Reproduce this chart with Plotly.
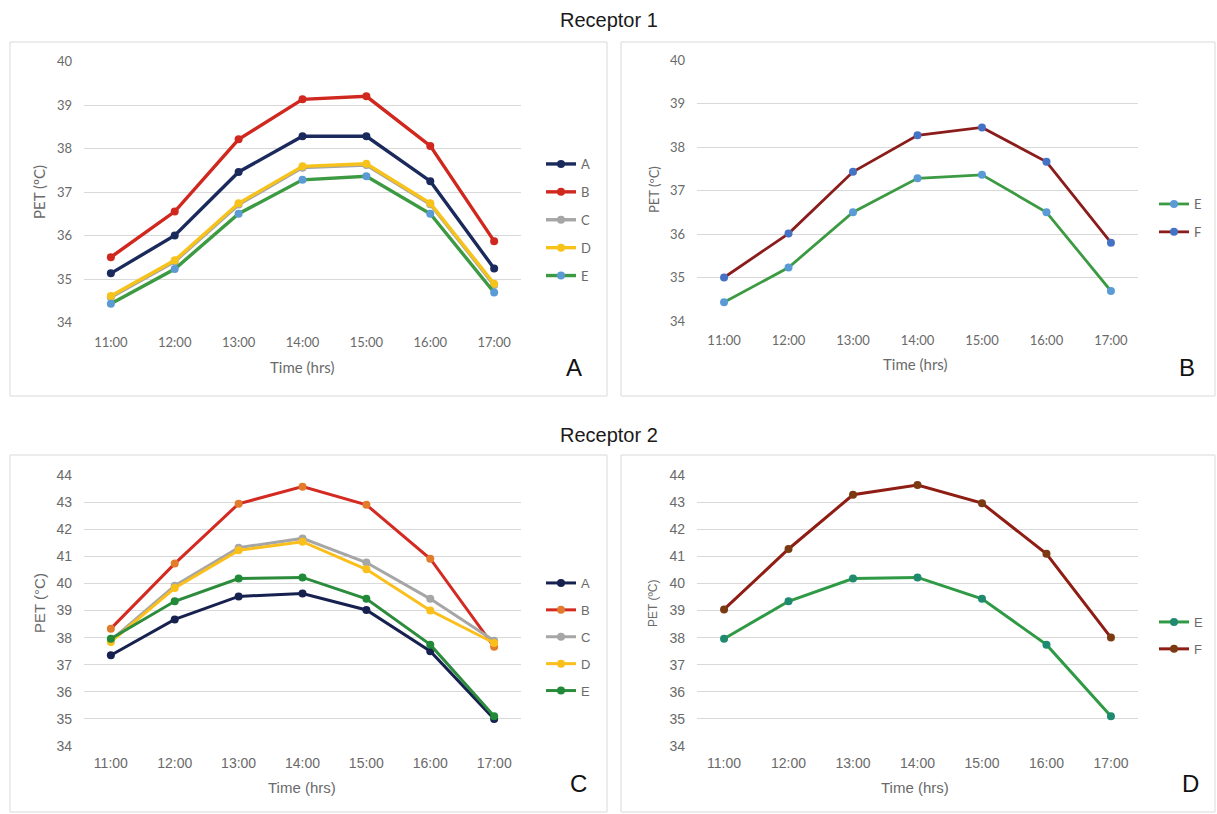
import plotly.graph_objects as go

W, H = 1217, 814

times = ["11:00", "12:00", "13:00", "14:00", "15:00", "16:00", "17:00"]

# Receptor 1 (PET, ºC)
r1_A = [35.13, 36.00, 37.46, 38.28, 38.28, 37.25, 35.24]
r1_B = [35.50, 36.55, 38.21, 39.13, 39.20, 38.06, 35.87]
r1_C = [34.58, 35.40, 36.71, 37.56, 37.62, 36.72, 34.86]
r1_D = [34.61, 35.43, 36.74, 37.59, 37.65, 36.74, 34.89]
r1_E = [34.43, 35.23, 36.50, 37.28, 37.36, 36.50, 34.69]
r1_F = [35.00, 36.01, 37.43, 38.27, 38.45, 37.66, 35.80]

# Receptor 2 (PET, ºC)
r2_A = [37.35, 38.67, 39.52, 39.63, 39.02, 37.50, 35.00]
r2_B = [38.33, 40.73, 42.94, 43.57, 42.90, 40.91, 37.66]
r2_C = [37.90, 39.91, 41.32, 41.66, 40.77, 39.43, 37.88]
r2_D = [37.84, 39.83, 41.22, 41.54, 40.52, 39.00, 37.80]
r2_E = [37.96, 39.34, 40.18, 40.22, 39.43, 37.74, 35.10]
r2_F = [39.04, 41.27, 43.27, 43.63, 42.96, 41.09, 38.00]

TOP_FONT = "Lato, Open Sans, sans-serif"
BOT_FONT = "Liberation Sans, Arial, sans-serif"
GREY = "#6a6a6a"


def px_x(a, b):
    return [a / W, b / W]


def px_y(top, bottom):
    return [1 - bottom / H, 1 - top / H]


fig = go.Figure()

# panel layout: (xaxis id, yaxis id, legend id, x-domain px, y-domain px)
panels = {
    "A": ("x", "y", "legend", (84, 521), (61.5, 322.5)),
    "B": ("x2", "y2", "legend2", (697, 1138), (60, 321)),
    "C": ("x3", "y3", "legend3", (84, 521), (475, 746)),
    "D": ("x4", "y4", "legend4", (697, 1138), (475, 746)),
}

series = {
    "A": [
        ("A", r1_A, "#1b2a5c", "#1b2a5c", 3.4),
        ("B", r1_B, "#d0281f", "#d0281f", 3.4),
        ("C", r1_C, "#a6a6a6", "#a6a6a6", 3.4),
        ("D", r1_D, "#f7c31a", "#f7c31a", 3.4),
        ("E", r1_E, "#3c9a42", "#5b9bd5", 3.4),
    ],
    "B": [
        ("E", r1_E, "#3c9a42", "#5b9bd5", 2.8),
        ("F", r1_F, "#8b1c1c", "#4472c4", 2.8),
    ],
    "C": [
        ("A", r2_A, "#16214f", "#16214f", 3.0),
        ("B", r2_B, "#d32a22", "#e37b2c", 3.0),
        ("C", r2_C, "#a6a6a6", "#a6a6a6", 3.0),
        ("D", r2_D, "#fbbf1c", "#fbbf1c", 3.0),
        ("E", r2_E, "#2c8c3c", "#208a38", 3.0),
    ],
    "D": [
        ("E", r2_E, "#2f9a45", "#1f8a70", 3.0),
        ("F", r2_F, "#8f1d14", "#7a3a12", 3.0),
    ],
}

for panel, items in series.items():
    xa, ya, lg, _, _ = panels[panel]
    for name, vals, lc, mc, lw in items:
        fig.add_trace(go.Scatter(
            x=times, y=vals, name=name, mode="lines+markers",
            line=dict(color=lc, width=lw),
            marker=dict(color=mc, size=8),
            xaxis=xa, yaxis=ya, legend=lg,
            legendgroup=panel + name,
        ))

layout = dict(
    width=W, height=H, margin=dict(l=0, r=0, t=0, b=0),
    paper_bgcolor="white", plot_bgcolor="white", showlegend=True,
)

yranges = {"A": (34, 40), "B": (34, 40), "C": (34, 44), "D": (34, 44)}
fonts = {"A": (TOP_FONT, 13), "B": (TOP_FONT, 13), "C": (BOT_FONT, 14), "D": (BOT_FONT, 14)}

for panel, (xa, ya, lg, xd, yd) in panels.items():
    xkey = "xaxis" + xa[1:]
    ykey = "yaxis" + ya[1:]
    fam, size = fonts[panel]
    layout[xkey] = dict(
        domain=px_x(*xd), anchor=ya, type="category",
        showgrid=False, zeroline=False, showline=False, ticks="",
        tickfont=dict(family=fam, size=size, color=GREY),
        ticklabelstandoff=10 if panel in "AB" else 7,
        fixedrange=True, automargin=False,
    )
    layout[ykey] = dict(
        domain=px_y(*yd), anchor=xa, range=list(yranges[panel]), dtick=1,
        showgrid=True, gridcolor="#d9d9d9", gridwidth=1,
        zeroline=False, showline=False, ticks="",
        tickfont=dict(family=fam, size=size, color=GREY),
        ticklabelstandoff=11, fixedrange=True, automargin=False,
    )

# legend placement: (left px, top px, gap between entries)
legend_pos = {
    "legend": (541, 149, 8),
    "legend2": (1154, 189, 8),
    "legend3": (541, 568, 7),
    "legend4": (1154, 607, 7),
}
for lg, (lx, ly, gap) in legend_pos.items():
    fam = TOP_FONT if lg in ("legend", "legend2") else BOT_FONT
    layout[lg] = dict(
        x=lx / W, y=1 - ly / H, xanchor="left", yanchor="top",
        bgcolor="rgba(0,0,0,0)", borderwidth=0,
        font=dict(family=fam, size=13, color=GREY),
        tracegroupgap=gap, itemwidth=30, traceorder="grouped",
    )

fig.update_layout(**layout)

# panel frames
frames = [(10, 42, 607, 396), (621, 42, 1215, 396), (10, 455, 607, 812), (621, 455, 1215, 812)]
for x0, y0, x1, y1 in frames:
    fig.add_shape(type="rect", xref="paper", yref="paper",
                  x0=x0 / W, x1=x1 / W, y0=1 - y1 / H, y1=1 - y0 / H,
                  line=dict(color="#d9d9d9", width=1), fillcolor="rgba(0,0,0,0)", layer="below")


def note(text, x, y, size, family, color="#222222", angle=0):
    fig.add_annotation(text=text, xref="paper", yref="paper", x=x / W, y=1 - y / H,
                       showarrow=False, xanchor="center", yanchor="middle", textangle=angle,
                       font=dict(family=family, size=size, color=color))


# group titles
note("Receptor 1", 609, 20, 20, BOT_FONT, "#1a1a1a")
note("Receptor 2", 609, 435, 20, BOT_FONT, "#1a1a1a")

# axis titles
note("Time (hrs)", 302, 366.5, 15, TOP_FONT, GREY)
note("Time (hrs)", 915, 364, 15, TOP_FONT, GREY)
note("Time (hrs)", 302, 787, 15, BOT_FONT, GREY)
note("Time (hrs)", 915, 787, 15, BOT_FONT, GREY)
note("PET (ºC)", 39, 192, 15, TOP_FONT, GREY, -90)
note("PET (ºC)", 654, 190, 13, TOP_FONT, GREY, -90)
note("PET (°C)", 39, 603, 15, BOT_FONT, GREY, -90)
note("PET (ºC)", 653, 603, 12, BOT_FONT, GREY, -90)

# panel letters
note("A", 574, 368, 24, BOT_FONT, "#111111")
note("B", 1187, 368, 24, BOT_FONT, "#111111")
note("C", 578, 783, 24, BOT_FONT, "#111111")
note("D", 1190, 783, 24, BOT_FONT, "#111111")

# page body without default margin so the figure sits at the window origin
fig.write_html("out.html", post_script="document.body.style.margin='0';")
